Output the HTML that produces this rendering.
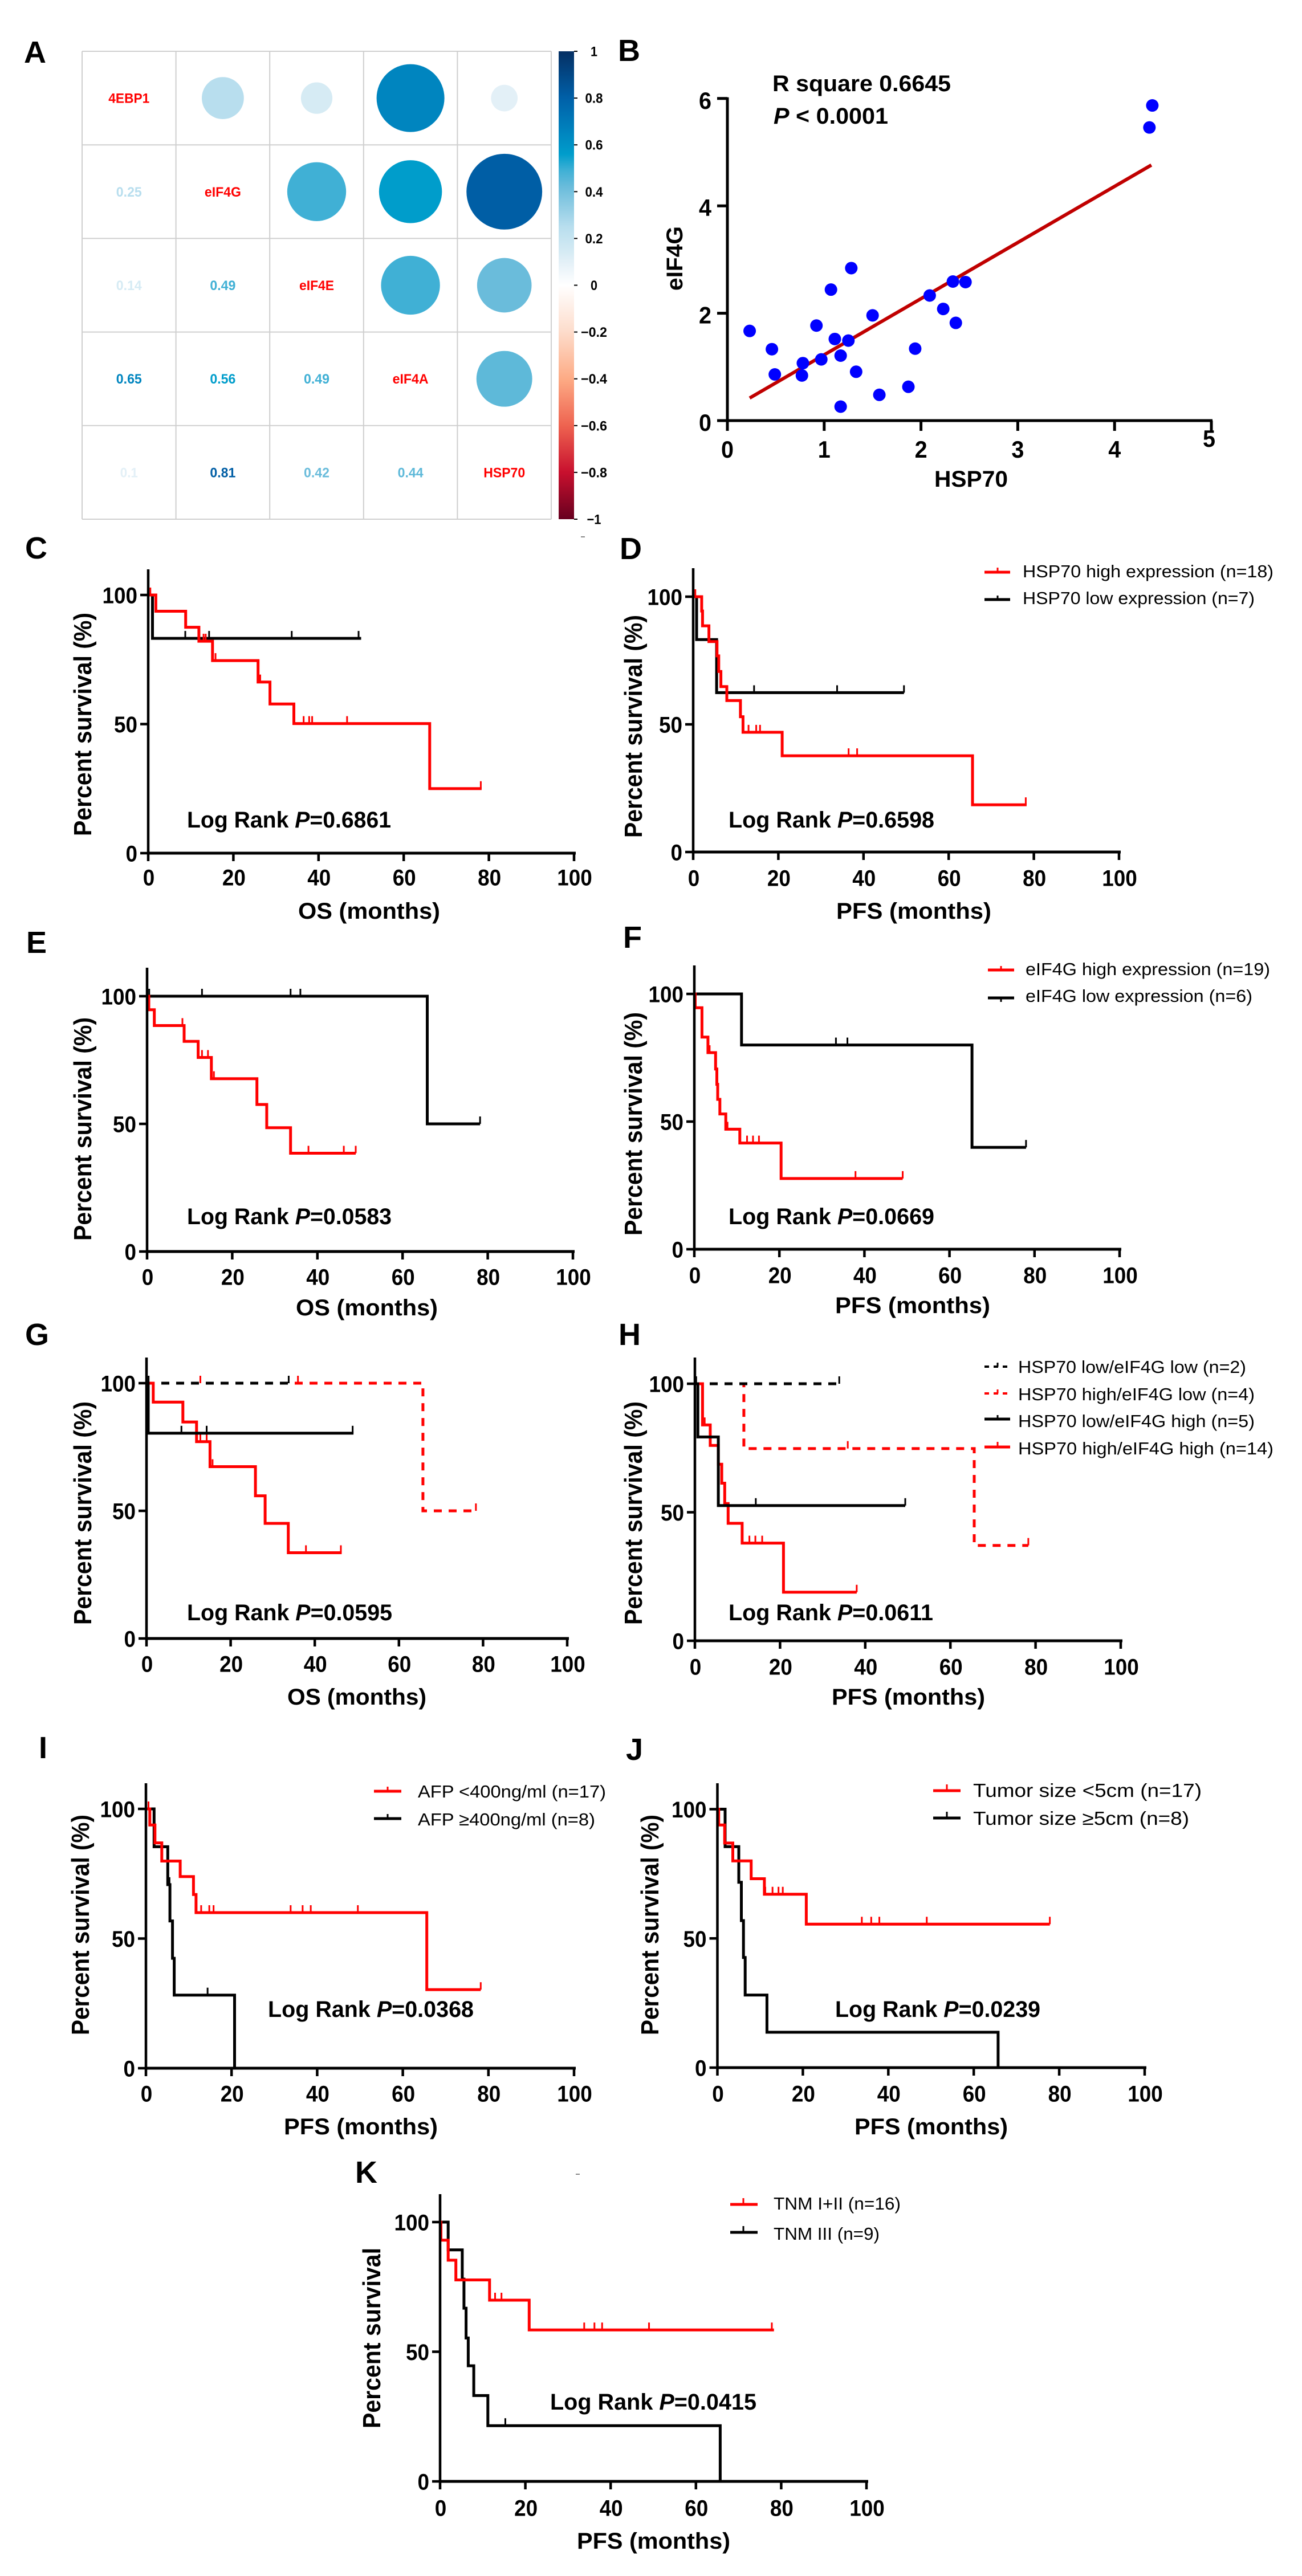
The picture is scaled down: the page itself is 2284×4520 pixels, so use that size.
<!DOCTYPE html>
<html lang="en">
<head>
<meta charset="utf-8">
<title>HSP70 and eIF4G correlation and survival analysis</title>
<style>
html,body{margin:0;padding:0;background:#fff;}
svg{display:block;}
text{font-family:"Liberation Sans",Arial,sans-serif;fill:#000;}
.letter{font-size:54px;font-weight:bold;}
.title{font-size:40px;font-weight:bold;}
.ylab{font-size:44px;font-weight:bold;}
.lr{font-size:40px;font-weight:bold;}
.lg{font-size:31px;}
.lgb{font-size:33px;}
.it{font-style:italic;}
</style>
</head>
<body>
<svg id="figure" xmlns="http://www.w3.org/2000/svg" width="2284" height="4520" viewBox="0 0 2284 4520">
<rect x="0" y="0" width="2284" height="4520" fill="#fff"/>

<g>
<text class="letter" x="42" y="110">A</text>
<text class="letter" x="1084" y="107">B</text>
<text class="letter" x="44" y="980">C</text>
<text class="letter" x="1087" y="981">D</text>
<text class="letter" x="46" y="1672">E</text>
<text class="letter" x="1093" y="1663">F</text>
<text class="letter" x="44" y="2360">G</text>
<text class="letter" x="1085" y="2360">H</text>
<text class="letter" x="68" y="3085">I</text>
<text class="letter" x="1098" y="3088">J</text>
<text class="letter" x="623" y="3830">K</text>
</g>

<g id="corr"></g>

<g id="scatter">
<text class="title" x="1355" y="160" textLength="313" lengthAdjust="spacingAndGlyphs">R square 0.6645</text>
<text class="title" x="1357" y="217" textLength="201" lengthAdjust="spacingAndGlyphs"><tspan class="it">P</tspan> &lt; 0.0001</text>
<text class="title" transform="translate(1197,510) rotate(-90)" textLength="113" lengthAdjust="spacingAndGlyphs">eIF4G</text>
<text class="title" x="1639" y="854" textLength="129" lengthAdjust="spacingAndGlyphs">HSP70</text>
</g>

<g id="panel-c">
<text class="ylab" transform="translate(160,1467) rotate(-90)" textLength="392" lengthAdjust="spacingAndGlyphs">Percent survival (%)</text>
<text class="title" x="523" y="1612" textLength="249" lengthAdjust="spacingAndGlyphs">OS (months)</text>
<text class="lr" x="328" y="1452" textLength="358" lengthAdjust="spacingAndGlyphs">Log Rank <tspan class="it">P</tspan>=0.6861</text>
</g>

<g id="panel-d">
<text class="ylab" transform="translate(1126,1470) rotate(-90)" textLength="391" lengthAdjust="spacingAndGlyphs">Percent survival (%)</text>
<text class="title" x="1467" y="1612" textLength="272" lengthAdjust="spacingAndGlyphs">PFS (months)</text>
<text class="lr" x="1278" y="1452" textLength="361" lengthAdjust="spacingAndGlyphs">Log Rank <tspan class="it">P</tspan>=0.6598</text>
<g>
<path d="M1727 1004H1772" stroke="#f00" stroke-width="5" fill="none"/>
<path d="M1750 1004V996" stroke="#f00" stroke-width="3" fill="none"/>
<text class="lg" x="1794" y="1013" textLength="440" lengthAdjust="spacingAndGlyphs">HSP70 high expression (n=18)</text>
<path d="M1727 1052H1772" stroke="#000" stroke-width="5" fill="none"/>
<path d="M1750 1052V1045" stroke="#000" stroke-width="3" fill="none"/>
<text class="lg" x="1794" y="1060" textLength="407" lengthAdjust="spacingAndGlyphs">HSP70 low expression (n=7)</text>
</g>
</g>

<g id="panel-e">
<text class="ylab" transform="translate(160,2177) rotate(-90)" textLength="392" lengthAdjust="spacingAndGlyphs">Percent survival (%)</text>
<text class="title" x="519" y="2308" textLength="249" lengthAdjust="spacingAndGlyphs">OS (months)</text>
<text class="lr" x="328" y="2148" textLength="359" lengthAdjust="spacingAndGlyphs">Log Rank <tspan class="it">P</tspan>=0.0583</text>
</g>

<g id="panel-f">
<text class="ylab" transform="translate(1126,2168) rotate(-90)" textLength="392" lengthAdjust="spacingAndGlyphs">Percent survival (%)</text>
<text class="title" x="1465" y="2304" textLength="272" lengthAdjust="spacingAndGlyphs">PFS (months)</text>
<text class="lr" x="1278" y="2148" textLength="361" lengthAdjust="spacingAndGlyphs">Log Rank <tspan class="it">P</tspan>=0.0669</text>
<g>
<path d="M1733 1702H1779" stroke="#f00" stroke-width="5" fill="none"/>
<path d="M1756 1702V1695" stroke="#f00" stroke-width="3" fill="none"/>
<text class="lg" x="1799" y="1711" textLength="429" lengthAdjust="spacingAndGlyphs">eIF4G high expression (n=19)</text>
<path d="M1733 1751H1779" stroke="#000" stroke-width="5" fill="none"/>
<path d="M1756 1751V1758" stroke="#000" stroke-width="3" fill="none"/>
<text class="lg" x="1799" y="1758" textLength="398" lengthAdjust="spacingAndGlyphs">eIF4G low expression (n=6)</text>
</g>
</g>

<g id="panel-g">
<text class="ylab" transform="translate(160,2851) rotate(-90)" textLength="392" lengthAdjust="spacingAndGlyphs">Percent survival (%)</text>
<text class="title" x="504" y="2991" textLength="244" lengthAdjust="spacingAndGlyphs">OS (months)</text>
<text class="lr" x="328" y="2843" textLength="360" lengthAdjust="spacingAndGlyphs">Log Rank <tspan class="it">P</tspan>=0.0595</text>
</g>

<g id="panel-h">
<text class="ylab" transform="translate(1126,2851) rotate(-90)" textLength="392" lengthAdjust="spacingAndGlyphs">Percent survival (%)</text>
<text class="title" x="1459" y="2991" textLength="269" lengthAdjust="spacingAndGlyphs">PFS (months)</text>
<text class="lr" x="1278" y="2843" textLength="359" lengthAdjust="spacingAndGlyphs">Log Rank <tspan class="it">P</tspan>=0.0611</text>
<g>
<path d="M1727 2398H1772" stroke="#000" stroke-width="4" stroke-dasharray="8 8" fill="none"/>
<path d="M1750 2398V2391" stroke="#000" stroke-width="3" fill="none"/>
<text class="lg" x="1786" y="2409" textLength="400" lengthAdjust="spacingAndGlyphs">HSP70 low/eIF4G low (n=2)</text>
<path d="M1727 2445H1772" stroke="#f00" stroke-width="4" stroke-dasharray="8 8" fill="none"/>
<path d="M1750 2445V2438" stroke="#f00" stroke-width="3" fill="none"/>
<text class="lg" x="1786" y="2457" textLength="415" lengthAdjust="spacingAndGlyphs">HSP70 high/eIF4G low (n=4)</text>
<path d="M1727 2490H1772" stroke="#000" stroke-width="5" fill="none"/>
<path d="M1750 2490V2483" stroke="#000" stroke-width="3" fill="none"/>
<text class="lg" x="1786" y="2504" textLength="415" lengthAdjust="spacingAndGlyphs">HSP70 low/eIF4G high (n=5)</text>
<path d="M1727 2539H1772" stroke="#f00" stroke-width="5" fill="none"/>
<path d="M1750 2539V2530" stroke="#f00" stroke-width="3" fill="none"/>
<text class="lg" x="1786" y="2552" textLength="448" lengthAdjust="spacingAndGlyphs">HSP70 high/eIF4G high (n=14)</text>
</g>
</g>

<g id="panel-i">
<text class="ylab" transform="translate(156,3571) rotate(-90)" textLength="387" lengthAdjust="spacingAndGlyphs">Percent survival (%)</text>
<text class="title" x="498" y="3745" textLength="270" lengthAdjust="spacingAndGlyphs">PFS (months)</text>
<text class="lr" x="470" y="3539" textLength="361" lengthAdjust="spacingAndGlyphs">Log Rank <tspan class="it">P</tspan>=0.0368</text>
<g>
<path d="M656 3143H704" stroke="#f00" stroke-width="5" fill="none"/>
<path d="M680 3143V3135" stroke="#f00" stroke-width="3" fill="none"/>
<text class="lg" x="733" y="3154" textLength="330" lengthAdjust="spacingAndGlyphs">AFP &lt;400ng/ml (n=17)</text>
<path d="M656 3191H704" stroke="#000" stroke-width="5" fill="none"/>
<path d="M680 3191V3183" stroke="#000" stroke-width="3" fill="none"/>
<text class="lg" x="733" y="3203" textLength="311" lengthAdjust="spacingAndGlyphs">AFP ≥400ng/ml (n=8)</text>
</g>
</g>

<g id="panel-j">
<text class="ylab" transform="translate(1155,3571) rotate(-90)" textLength="387" lengthAdjust="spacingAndGlyphs">Percent survival (%)</text>
<text class="title" x="1499" y="3745" textLength="269" lengthAdjust="spacingAndGlyphs">PFS (months)</text>
<text class="lr" x="1465" y="3539" textLength="360" lengthAdjust="spacingAndGlyphs">Log Rank <tspan class="it">P</tspan>=0.0239</text>
<g>
<path d="M1637 3142H1685" stroke="#f00" stroke-width="5" fill="none"/>
<path d="M1661 3142V3131" stroke="#f00" stroke-width="3" fill="none"/>
<text class="lgb" x="1707" y="3153" textLength="401" lengthAdjust="spacingAndGlyphs">Tumor size &lt;5cm (n=17)</text>
<path d="M1637 3190H1685" stroke="#000" stroke-width="5" fill="none"/>
<path d="M1661 3190V3179" stroke="#000" stroke-width="3" fill="none"/>
<text class="lgb" x="1707" y="3202" textLength="379" lengthAdjust="spacingAndGlyphs">Tumor size ≥5cm (n=8)</text>
</g>
</g>

<g id="panel-k">
<text class="ylab" transform="translate(667,4261) rotate(-90)" textLength="317" lengthAdjust="spacingAndGlyphs">Percent survival</text>
<text class="title" x="1012" y="4472" textLength="269" lengthAdjust="spacingAndGlyphs">PFS (months)</text>
<text class="lr" x="965" y="4228" textLength="362" lengthAdjust="spacingAndGlyphs">Log Rank <tspan class="it">P</tspan>=0.0415</text>
<g>
<path d="M1281 3868H1329" stroke="#f00" stroke-width="5" fill="none"/>
<path d="M1304 3868V3857" stroke="#f00" stroke-width="3" fill="none"/>
<text class="lg" x="1357" y="3877" textLength="223" lengthAdjust="spacingAndGlyphs">TNM I+II (n=16)</text>
<path d="M1281 3917H1329" stroke="#000" stroke-width="5" fill="none"/>
<path d="M1304 3917V3906" stroke="#000" stroke-width="3" fill="none"/>
<text class="lg" x="1357" y="3930" textLength="186" lengthAdjust="spacingAndGlyphs">TNM III (n=9)</text>
</g>
</g>

<rect x="1019" y="941" width="7" height="2" fill="#888"/>
<rect x="1010" y="3814" width="7" height="2" fill="#888"/>
</svg>

<script>
/* ---------- panel A data ---------- */
const corrLabels = ['4EBP1', 'eIF4G', 'eIF4E', 'eIF4A', 'HSP70'];
const corrRow1 = [1, 0.25, 0.14, 0.65, 0.1];
const corrRow2 = [0.25, 1, 0.49, 0.56, 0.81];
const corrRow3 = [0.14, 0.49, 1, 0.49, 0.42];
const corrRow4 = [0.65, 0.56, 0.49, 1, 0.44];
const corrRow5 = [0.1, 0.81, 0.42, 0.44, 1];
const colorbarTicks = [1, 0.8, 0.6, 0.4, 0.2, 0, -0.2, -0.4, -0.6, -0.8, -1];

/* ---------- panel B data ---------- */
const hsp70Values = [0.23, 0.46, 0.49, 0.77, 0.78, 0.92, 0.97, 1.07, 1.11, 1.17, 1.17, 1.25, 1.28, 1.33, 1.50, 1.57, 1.87, 1.94, 2.09, 2.23, 2.33, 2.36, 2.46, 4.36, 4.39];
const eif4gValues = [1.67, 1.33, 0.86, 0.84, 1.07, 1.77, 1.14, 2.44, 1.52, 1.21, 0.26, 1.49, 2.84, 0.91, 1.96, 0.48, 0.63, 1.34, 2.33, 2.08, 2.59, 1.82, 2.58, 5.46, 5.87];
const fitLineX = [0.23, 4.38];
const fitLineY = [0.42, 4.76];
const scatterXTicks = [0, 1, 2, 3, 4, 5];
const scatterYTicks = [0, 2, 4, 6];

/* ---------- survival data: step times, survival %, censor times ---------- */
const survXTicks = [0, 20, 40, 60, 80, 100];
const survYTicks = [0, 50, 100];

const cRedT = [0, 1.8, 8.8, 11.9, 15.1, 25.8, 28.6, 34.2, 66.1, 78.3];
const cRedS = [100, 93.7, 87.5, 82.1, 74.6, 66.3, 57.8, 50.2, 25, 25];
const cRedC = [0.5, 13, 13.5, 15.8, 26.3, 36.5, 37.8, 38.5, 46.7, 66.2, 78.1];
const cBlkT = [0, 1, 50];
const cBlkS = [100, 83.2, 83.2];
const cBlkC = [8.7, 14.3, 33.7, 49.4];

const dRedT = [0, 2.0, 2.2, 3.7, 5.6, 6, 6.5, 7.9, 11.1, 11.7, 20.9, 65.6, 78.3];
const dRedS = [100, 94.4, 88.6, 82.4, 76.8, 70.7, 64.8, 59.3, 53, 46.9, 37.7, 18.5, 18.5];
const dRedC = [0.5, 13, 14.8, 15.7, 36.5, 38.5, 78.1];
const dBlkT = [0, 0.8, 5.5, 49.5];
const dBlkS = [100, 83.2, 62.4, 62.4];
const dBlkC = [14.3, 33.8, 49.5];

const eRedT = [0, 0.4, 1.7, 8.7, 12, 15.1, 25.8, 28.1, 33.7, 49];
const eRedS = [100, 94.7, 88.5, 82.3, 76, 67.7, 57.6, 48.5, 38.5, 38.5];
const eRedC = [8.3, 12.9, 14.3, 15.7, 37.9, 46.2, 49];
const eBlkT = [0, 65.8, 78.2];
const eBlkS = [100, 50, 50];
const eBlkC = [0.5, 12.9, 33.7, 36, 78.2];

const fRedT = [0, 0.2, 1.8, 3.2, 5, 5.3, 5.5, 6, 7.4, 10.7, 20.4, 49];
const fRedS = [100, 94.6, 83.1, 77, 70.6, 64.6, 58.7, 53, 47, 41.6, 27.7, 27.7];
const fRedC = [0.2, 3.6, 7.8, 12.4, 13.8, 15.2, 37.9, 49];
const fBlkT = [0, 11.1, 65.3, 78];
const fBlkS = [100, 80, 39.9, 39.9];
const fBlkC = [33.3, 36, 78];

const gRedT = [0, 1.6, 8.65, 11.9, 15.1, 25.9, 28.2, 33.7, 46.4];
const gRedS = [100, 92.6, 84.8, 77.1, 67.3, 55.9, 45.1, 33.6, 33.6];
const gRedC = [12.8, 14.3, 15.7, 37.9, 46.2];
const gBlkT = [0, 0.4, 49.2];
const gBlkS = [100, 80.4, 80.4];
const gBlkC = [8.3, 14.3, 49];
const gBlkDashT = [0, 34];
const gBlkDashS = [100, 100];
const gBlkDashC = [0.5, 33.8];
const gRedDashT = [0, 65.7, 78.4];
const gRedDashS = [100, 50, 50];
const gRedDashC = [12.8, 36, 78.3];

const hRedT = [0, 1.8, 3.6, 5.5, 6.3, 7, 7.8, 11.1, 20.8, 38];
const hRedS = [100, 84, 76, 68.7, 61.3, 53.4, 45.7, 38, 18.9, 18.9];
const hRedC = [2.3, 12.8, 14.2, 15.8, 38];
const hBlkT = [0, 0.7, 5.5, 49.4];
const hBlkS = [100, 79.3, 52.6, 52.6];
const hBlkC = [5.6, 14.3, 49.4];
const hBlkDashT = [0, 33.9];
const hBlkDashS = [100, 100];
const hBlkDashC = [0.3, 33.9];
const hRedDashT = [0, 11.5, 65.6, 78.3];
const hRedDashS = [100, 74.8, 37.1, 37.1];
const hRedDashC = [35.9, 78.3];

const iRedT = [0, 0.9, 2.1, 3.7, 8, 11.1, 11.7, 65.6, 78.2];
const iRedS = [100, 93.8, 86.9, 79.9, 73.9, 67, 60, 30.3, 30.3];
const iRedC = [0.6, 12.9, 14.8, 15.8, 33.8, 36.6, 38.5, 49.5, 78.2];
const iBlkT = [0, 1.9, 5.1, 5.6, 6.2, 6.6, 20.7];
const iBlkS = [100, 85.4, 70.8, 56.8, 42.4, 28.2, 0];
const iBlkC = [5.5, 14.4];

const jRedT = [0, 0.3, 1.7, 3.6, 7.9, 11, 20.8, 77.8];
const jRedS = [100, 93.9, 86.9, 80, 73.1, 67.1, 55.5, 55.5];
const jRedC = [0.3, 11.2, 12.9, 14.3, 15.3, 33.8, 36, 37.9, 49, 77.8];
const jBlkT = [0, 1.8, 5, 5.6, 6.1, 6.5, 11.6, 65.7];
const jBlkS = [100, 85.5, 71.7, 56.9, 42.6, 28.1, 13.7, 0];
const jBlkC = [];

const kRedT = [0, 0.2, 1.9, 3.7, 11.6, 20.9, 78.3];
const kRedS = [100, 93, 85.3, 77.7, 69.9, 58.4, 58.4];
const kRedC = [0.2, 12.9, 14.4, 33.8, 36.2, 38, 49, 77.8];
const kBlkT = [0, 1.9, 5.2, 5.6, 6.1, 6.6, 7.9, 11.2, 65.7];
const kBlkS = [100, 89.3, 78, 66.8, 55.3, 44.6, 33.1, 21.5, 0];
const kBlkC = [11.3, 15.3];

/* ---------- helpers ---------- */
const NS = 'http://www.w3.org/2000/svg';
const FONT_DIGIT = 20.5;
function mk(tag, parent, attrs) {
  const el = document.createElementNS(NS, tag);
  for (const k in attrs) el.setAttribute(k, attrs[k]);
  parent.appendChild(el);
  return el;
}
function label(parent, str, x, y, anchor, size, width, color) {
  const el = mk('text', parent, {x: x, y: y, 'text-anchor': anchor, 'font-size': size, 'font-weight': 'bold', fill: color || '#000', textLength: width, lengthAdjust: 'spacingAndGlyphs'});
  el.style.fill = color || '#000';
  el.textContent = str;
  return el;
}

/* ---------- panel A ---------- */
const colorStops = [[1, '#052f63'], [0.8, '#0060a8'], [0.65, '#0085bf'], [0.56, '#009dcb'], [0.49, '#40b0d5'], [0.42, '#6abcdb'], [0.25, '#b8deee'], [0.14, '#d6ebf4'], [0.1, '#e3f0f7'], [0, '#ffffff'], [-0.2, '#fddccb'], [-0.4, '#fdab85'], [-0.6, '#ee6350'], [-0.8, '#c8102e'], [-1, '#67001f']];
function hexRgb(h) { return [1, 3, 5].map(function (i) { return parseInt(h.substr(i, 2), 16); }); }
function corrColor(v) {
  for (let i = 0; i < colorStops.length - 1; i++) {
    const a = colorStops[i], b = colorStops[i + 1];
    if (v <= a[0] && v >= b[0]) {
      const f = (a[0] - v) / (a[0] - b[0]);
      const ca = hexRgb(a[1]), cb = hexRgb(b[1]);
      return 'rgb(' + ca.map(function (c, j) { return Math.round(c + (cb[j] - c) * f); }).join(',') + ')';
    }
  }
  return '#fff';
}
(function drawCorr() {
  const root = document.getElementById('corr');
  const left = 144, top = 90, n = corrLabels.length, cw = 164.6, ch = 164.2;
  const rows = [corrRow1, corrRow2, corrRow3, corrRow4, corrRow5];
  const radiusOf = function (v) { return 0.9 * 82 * Math.sqrt(Math.abs(v)); };
  for (let i = 0; i <= n; i++) {
    const h = mk('line', root, {x1: left, x2: left + n * cw, y1: top + i * ch, y2: top + i * ch, stroke: '#cfcfcf', 'stroke-width': 2});
    
    
    const w = mk('line', root, {x1: left + i * cw, x2: left + i * cw, y1: top, y2: top + n * ch, stroke: '#cfcfcf', 'stroke-width': 2});
    
    
  }
  const labelWidths = [72, 64, 61, 63, 73];
  rows.forEach(function (row, r) {
    row.forEach(function (v, c) {
      const cx = left + (c + 0.5) * cw, cy = top + (r + 0.5) * ch;
      if (r === c) {
        const t = label(root, corrLabels[r], cx, cy + 8.5, 'middle', 24, labelWidths[r], '#ff0000');
        
        
      } else if (c > r) {
        const dot = mk('circle', root, {cx: cx, cy: cy, r: radiusOf(v), fill: corrColor(v)});
        
        
      } else {
        const str = String(v);
        const t = label(root, str, cx, cy + 8.5, 'middle', 24, str.length > 3 ? 45 : 31, corrColor(v));
        
        
      }
    });
  });
  const defs = mk('defs', root, {});
  const grad = mk('linearGradient', defs, {id: 'cbGrad', x1: 0, x2: 0, y1: 0, y2: 1});
  colorStops.forEach(function (s) {
    mk('stop', grad, {offset: ((1 - s[0]) / 2), 'stop-color': s[1]});
  });
  const bar = mk('rect', root, {x: 980, y: top, width: 27, height: n * ch, fill: 'url(#cbGrad)'});
  
  
  colorbarTicks.forEach(function (v) {
    const y = top + (1 - v) / 2 * n * ch;
    const tk = mk('line', root, {x1: 1007, x2: 1013, y1: y, y2: y, stroke: '#000', 'stroke-width': 2});
    
    
    const str = (v < 0 ? '\u2212' : '') + String(Math.abs(v));
    const width = str.length === 1 ? 12 : str.length === 2 ? 25 : str.length === 3 ? 31 : 46;
    const t = label(root, str, 1042, y + 8.5, 'middle', 24, width);
    
    
  });
})();

/* ---------- panel B ---------- */
(function drawScatter() {
  const root = document.getElementById('scatter');
  const sx = function (v) { return 1276 + v * 169.8; };
  const sy = function (v) { return 738 - v * 94.2; };
  const yAxis = mk('line', root, {x1: sx(0), x2: sx(0), y1: sy(6) - 2, y2: sy(0) + 2, stroke: '#000', 'stroke-width': 5});
  
  
  const xAxis = mk('line', root, {x1: sx(0) - 2, x2: sx(5) + 2, y1: sy(0), y2: sy(0), stroke: '#000', 'stroke-width': 5});
  
  
  scatterYTicks.forEach(function (v) {
    const tk = mk('line', root, {x1: sx(0) - 18, x2: sx(0), y1: sy(v), y2: sy(v), stroke: '#000', 'stroke-width': 5});
    
    
    const t = label(root, String(v), sx(0) - 28, sy(v) + 18, 'end', 42, 22);
    
    
  });
  scatterXTicks.forEach(function (v, i) {
    const tk = mk('line', root, {x1: sx(v), x2: sx(v), y1: sy(0), y2: sy(0) + 18, stroke: '#000', 'stroke-width': 5});
    
    
    const last = i === scatterXTicks.length - 1;
    const t = label(root, String(v), sx(v) + (last ? -4 : 0), (last ? 769 : 788) + 15, 'middle', 42, 22);
    
    
  });
  const fit = mk('line', root, {x1: sx(fitLineX[0]), y1: sy(fitLineY[0]), x2: sx(fitLineX[1]), y2: sy(fitLineY[1]), stroke: '#c00000', 'stroke-width': 6});
  
  
  hsp70Values.forEach(function (v, i) {
    const p = mk('circle', root, {cx: sx(v), cy: sy(eif4gValues[i]), r: 11, fill: '#0000ff'});
    
    
  });
})();

/* ---------- survival panels ---------- */
const RED = '#ff0000', BLK = '#000000';
const panels = [
  {id: 'c', x0: 260, x100: 1007, y0: 1497, y100: 1044, top: 999, xLab: 1539, series: [
    {name: 'low-expression', t: cBlkT, s: cBlkS, c: cBlkC, color: BLK},
    {name: 'high-expression', t: cRedT, s: cRedS, c: cRedC, color: RED}]},
  {id: 'd', x0: 1216, x100: 1963, y0: 1495, y100: 1047, top: 997, xLab: 1540, series: [
    {name: 'low-expression', t: dBlkT, s: dBlkS, c: dBlkC, color: BLK},
    {name: 'high-expression', t: dRedT, s: dRedS, c: dRedC, color: RED}]},
  {id: 'e', x0: 258, x100: 1005, y0: 2196, y100: 1748, top: 1698, xLab: 2240, series: [
    {name: 'low-expression', t: eBlkT, s: eBlkS, c: eBlkC, color: BLK},
    {name: 'high-expression', t: eRedT, s: eRedS, c: eRedC, color: RED}]},
  {id: 'f', x0: 1218, x100: 1964, y0: 2192, y100: 1744, top: 1694, xLab: 2237, series: [
    {name: 'low-expression', t: fBlkT, s: fBlkS, c: fBlkC, color: BLK},
    {name: 'high-expression', t: fRedT, s: fRedS, c: fRedC, color: RED}]},
  {id: 'g', x0: 257, x100: 995, y0: 2875, y100: 2427, top: 2382, xLab: 2919, series: [
    {name: 'high-low', t: gRedDashT, s: gRedDashS, c: gRedDashC, color: RED, dash: true},
    {name: 'low-low', t: gBlkDashT, s: gBlkDashS, c: gBlkDashC, color: BLK, dash: true},
    {name: 'high-high', t: gRedT, s: gRedS, c: gRedC, color: RED},
    {name: 'low-high', t: gBlkT, s: gBlkS, c: gBlkC, color: BLK}]},
  {id: 'h', x0: 1219, x100: 1966, y0: 2879, y100: 2428, top: 2382, xLab: 2924, series: [
    {name: 'high-low', t: hRedDashT, s: hRedDashS, c: hRedDashC, color: RED, dash: true},
    {name: 'low-low', t: hBlkDashT, s: hBlkDashS, c: hBlkDashC, color: BLK, dash: true},
    {name: 'high-high', t: hRedT, s: hRedS, c: hRedC, color: RED},
    {name: 'low-high', t: hBlkT, s: hBlkS, c: hBlkC, color: BLK}]},
  {id: 'i', x0: 256, x100: 1007, y0: 3629, y100: 3174, top: 3129, xLab: 3673, series: [
    {name: 'afp-high', t: iBlkT, s: iBlkS, c: iBlkC, color: BLK},
    {name: 'afp-low', t: iRedT, s: iRedS, c: iRedC, color: RED}]},
  {id: 'j', x0: 1258.5, x100: 2008, y0: 3628, y100: 3174.5, top: 3129, xLab: 3673, series: [
    {name: 'tumor-large', t: jBlkT, s: jBlkS, c: jBlkC, color: BLK},
    {name: 'tumor-small', t: jRedT, s: jRedS, c: jRedC, color: RED}]},
  {id: 'k', x0: 772, x100: 1520, y0: 4354, y100: 3899, top: 3850, xLab: 4400, series: [
    {name: 'tnm-late', t: kBlkT, s: kBlkS, c: kBlkC, color: BLK},
    {name: 'tnm-early', t: kRedT, s: kRedS, c: kRedC, color: RED}]}
];
function survivalAt(times, surv, t) {
  let value = surv[0];
  for (let i = 0; i < times.length; i++) {
    if (times[i] <= t) value = surv[i];
  }
  return value;
}
panels.forEach(function (p) {
  const root = document.getElementById('panel-' + p.id);
  const X = function (t) { return p.x0 + t * (p.x100 - p.x0) / 100; };
  const Y = function (s) { return p.y0 - s * (p.y0 - p.y100) / 100; };

  p.series.forEach(function (sr) {
    let d = 'M' + X(sr.t[0]).toFixed(1) + ' ' + Y(sr.s[0]).toFixed(1);
    for (let i = 1; i < sr.t.length; i++) {
      d += 'H' + X(sr.t[i]).toFixed(1) + 'V' + Y(sr.s[i]).toFixed(1);
    }
    const attrs = {d: d, fill: 'none', stroke: sr.color, 'stroke-width': 5};
    if (sr.dash) attrs['stroke-dasharray'] = '14 12';
    const line = mk('path', root, attrs);
    
    
    sr.c.forEach(function (ct) {
      const cy = Y(survivalAt(sr.t, sr.s, ct));
      const tick = mk('line', root, {x1: X(ct), x2: X(ct), y1: cy, y2: cy - 13, stroke: sr.color, 'stroke-width': 3});
      
      
    });
  });

  const yAxis = mk('line', root, {x1: p.x0, x2: p.x0, y1: p.top, y2: p.y0 + 2, stroke: '#000', 'stroke-width': 4.5});
  
  
  const xAxis = mk('line', root, {x1: p.x0 - 2, x2: p.x100 + 3, y1: p.y0, y2: p.y0, stroke: '#000', 'stroke-width': 5});
  
  

  survYTicks.forEach(function (v) {
    const tk = mk('line', root, {x1: p.x0 - 14, x2: p.x0, y1: Y(v), y2: Y(v), stroke: '#000', 'stroke-width': 4.5});
    
    
    const str = String(v);
    const t = label(root, str, p.x0 - 19, Y(v) + 14.5, 'end', 40, str.length * FONT_DIGIT);
    
    
  });
  survXTicks.forEach(function (v) {
    const tk = mk('line', root, {x1: X(v), x2: X(v), y1: p.y0, y2: p.y0 + 14, stroke: '#000', 'stroke-width': 4.5});
    
    
    const str = String(v);
    const t = label(root, str, X(v) + 1, p.xLab + 14.5, 'middle', 40, str.length * FONT_DIGIT);
    
    
  });
});
</script>
</body>
</html>
